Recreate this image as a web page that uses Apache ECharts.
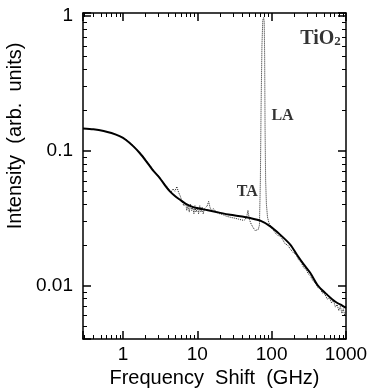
<!DOCTYPE html>
<html>
<head>
<meta charset="utf-8">
<script src="https://cdn.jsdelivr.net/npm/echarts@6.0.0/dist/echarts.min.js"></script>
<style>
  html, body { margin: 0; padding: 0; background: #fff; }
  #chart { width: 371px; height: 388px; }
</style>
</head>
<body>
<div id="chart"></div>
<script>
// fitted curve (solid line)
var fitFreq = [0.29, 0.4, 0.55, 0.7, 0.9, 1.1, 1.37, 1.68, 2.07, 2.5, 3.13, 3.7, 4.28, 5.0, 5.84, 7.0, 8.83, 11, 13.4, 18,
  27.7, 40, 51.5, 70.3, 95.9, 131, 179, 220, 270, 333, 411, 480, 561, 650, 765, 880, 1000];
var fitInt = [0.146, 0.144, 0.140, 0.135, 0.128, 0.120, 0.108, 0.096, 0.083, 0.072, 0.0626, 0.055, 0.0498, 0.046, 0.0432, 0.0403, 0.0381, 0.0370, 0.0362, 0.0350,
  0.0334, 0.0325, 0.0316, 0.0302, 0.0274, 0.0237, 0.0200, 0.0168, 0.0143, 0.0123, 0.0101, 0.0092, 0.0085, 0.0079, 0.0074, 0.0071, 0.0068];

// measured spectrum (dotted line), TA and LA peaks
var measFreq = [1.1, 1.25, 1.4, 1.6, 1.8, 2.0, 2.3, 2.6, 3.0, 3.4, 3.8, 4.1, 4.4, 4.7, 5.0, 5.3, 5.6, 5.9, 6.2, 6.6,
  7.0, 7.2, 7.5, 7.8, 8.1, 8.4, 8.7, 9.0, 9.3, 9.6, 10.0, 10.4, 10.8, 11.2, 11.6, 12.0, 12.5, 13.0, 13.6, 14.2,
  14.8, 15.5, 16.5, 18, 20, 22, 25, 28, 32, 36, 40, 43, 46, 48, 50, 53, 56, 60, 63.5, 66,
  68.5, 70.5, 72, 74, 76, 78, 79.5, 80.5, 81.5, 83, 85, 88, 92, 97, 104, 112, 120, 130, 140, 150,
  165, 180, 195, 210, 230, 250, 270, 290, 310, 330, 360, 390, 420, 450, 480, 520, 560, 600, 640, 680,
  720, 760, 800, 840, 880, 920, 960, 1000];
var measInt = [0.121, 0.114, 0.108, 0.099, 0.093, 0.086, 0.078, 0.071, 0.065, 0.059, 0.055, 0.052, 0.049, 0.052, 0.050, 0.054, 0.049, 0.046, 0.042, 0.039,
  0.041, 0.036, 0.039, 0.035, 0.040, 0.036, 0.038, 0.034, 0.039, 0.035, 0.038, 0.034, 0.039, 0.035, 0.038, 0.034, 0.037, 0.036, 0.039, 0.042,
  0.038, 0.036, 0.037, 0.035, 0.034, 0.0335, 0.0325, 0.032, 0.0315, 0.031, 0.0305, 0.0305, 0.032, 0.036, 0.031, 0.0285, 0.027, 0.0255, 0.025, 0.026,
  0.028, 0.06, 0.2, 0.6, 0.93, 0.97, 0.9, 0.5, 0.15, 0.06, 0.04, 0.032, 0.029, 0.0275, 0.026, 0.0245, 0.0235, 0.0232, 0.022, 0.0205,
  0.0198, 0.0185, 0.0175, 0.0172, 0.0155, 0.0148, 0.0135, 0.0132, 0.0122, 0.0118, 0.0108, 0.0104, 0.0096, 0.0094, 0.0088, 0.0086, 0.0079, 0.0081, 0.0074, 0.0077,
  0.0069, 0.0072, 0.0065, 0.0070, 0.0062, 0.0067, 0.0060, 0.0064];

// axes
var xRange = [0.29, 1000];
var yRange = [0.004, 1.05];
var xTickLabels = ['1', '10', '100', '1000'];
var yTickLabels = ['0.01', '0.1', '1'];
var xMinor = [0.3, 0.4, 0.5, 0.6, 0.7, 0.8, 0.9, 2, 3, 4, 5, 6, 7, 8, 9, 20, 30, 40, 50, 60, 70, 80, 90, 200, 300, 400, 500, 600, 700, 800, 900];
var yMinor = [0.005, 0.006, 0.007, 0.008, 0.009, 0.02, 0.03, 0.04, 0.05, 0.06, 0.07, 0.08, 0.09, 0.2, 0.3, 0.4, 0.5, 0.6, 0.7, 0.8, 0.9];

// annotations
var noteText = ['TiO2', 'LA', 'TA'];
var noteFreq = [455, 140, 47];
var noteInt = [0.69, 0.182, 0.0496];

var myChart = echarts.init(document.getElementById('chart'));

function pairs(xs, ys) {
  return xs.map(function (x, i) { return [x, ys[i]]; });
}

function tickFormatter(list, k) {
  return function (v) {
    var s = String(Math.round(v * k) / k);
    return list.indexOf(s) >= 0 ? s : '';
  };
}

// short inward ticks for the log minor divisions, on both sides of the frame
function minorTick(dim) {
  return function (params, api) {
    var len = 4, a, b, st = { stroke: '#000', lineWidth: 1 };
    if (dim === 'x') {
      a = api.coord([api.value(0), yRange[0]]);
      b = api.coord([api.value(0), yRange[1]]);
      var x = Math.round(a[0]) + 0.5;
      return { type: 'group', children: [
        { type: 'line', shape: { x1: x, y1: a[1], x2: x, y2: a[1] - len }, style: st },
        { type: 'line', shape: { x1: x, y1: b[1], x2: x, y2: b[1] + len }, style: st }
      ] };
    }
    a = api.coord([xRange[0], api.value(1)]);
    b = api.coord([xRange[1], api.value(1)]);
    var y = Math.round(a[1]) + 0.5;
    return { type: 'group', children: [
      { type: 'line', shape: { x1: a[0], y1: y, x2: a[0] + len, y2: y }, style: st },
      { type: 'line', shape: { x1: b[0], y1: y, x2: b[0] - len, y2: y }, style: st }
    ] };
  };
}

var axisLine = { show: true, lineStyle: { color: '#000', width: 1.5 } };
var axisTick = { show: true, inside: true, length: 8, lineStyle: { color: '#000', width: 1.5 } };
var labelFont = { color: '#000', fontSize: 19, fontFamily: 'Liberation Sans, Arial, sans-serif' };
var serif = 'Liberation Serif, Times New Roman, serif';

var option = {
  backgroundColor: '#fff',
  animation: false,
  grid: { left: 83, right: 25, top: 13, bottom: 49, outerBoundsMode: 'none' },
  xAxis: [{
    type: 'log', logBase: 10, position: 'bottom',
    min: xRange[0], max: xRange[1],
    name: 'Frequency  Shift  (GHz)', nameLocation: 'middle', nameGap: 20,
    nameTextStyle: { color: '#000', fontSize: 20, fontFamily: 'Liberation Sans, Arial, sans-serif' },
    axisLine: axisLine, axisTick: axisTick,
    axisLabel: Object.assign({ margin: 6, formatter: tickFormatter(xTickLabels, 1000) }, labelFont),
    splitLine: { show: false }
  }, {
    type: 'log', logBase: 10, position: 'top',
    min: xRange[0], max: xRange[1],
    axisLine: axisLine, axisTick: axisTick,
    axisLabel: { show: false }, splitLine: { show: false }
  }],
  yAxis: [{
    type: 'log', logBase: 10, position: 'left',
    min: yRange[0], max: yRange[1],
    name: 'Intensity  (arb.  units)', nameLocation: 'middle', nameGap: 46,
    nameTextStyle: { color: '#000', fontSize: 20, fontFamily: 'Liberation Sans, Arial, sans-serif', padding: [0, 0, 0, 80] },
    axisLine: axisLine, axisTick: axisTick,
    axisLabel: Object.assign({ margin: 10, formatter: tickFormatter(yTickLabels, 10000) }, labelFont),
    splitLine: { show: false }
  }, {
    type: 'log', logBase: 10, position: 'right',
    min: yRange[0], max: yRange[1],
    axisLine: axisLine, axisTick: axisTick,
    axisLabel: { show: false }, splitLine: { show: false }
  }],
  series: [{
    type: 'custom', silent: true,
    renderItem: minorTick('x'),
    data: xMinor.map(function (v) { return [v, yRange[0]]; })
  }, {
    type: 'custom', silent: true,
    renderItem: minorTick('y'),
    data: yMinor.map(function (v) { return [xRange[0], v]; })
  }, {
    name: 'measured', type: 'line',
    data: pairs(measFreq, measInt),
    showSymbol: false,
    lineStyle: { color: '#222', width: 1, type: 'dotted' },
    z: 3
  }, {
    name: 'fit', type: 'line',
    data: pairs(fitFreq, fitInt),
    showSymbol: false, smooth: 0.25,
    lineStyle: { color: '#000', width: 2 },
    z: 4
  }, {
    type: 'scatter', symbolSize: 0, silent: true,
    data: noteText.map(function (t, i) { return [noteFreq[i], noteInt[i], t]; }),
    label: {
      show: true, position: 'inside', color: '#000',
      fontFamily: serif, fontSize: 17,
      formatter: function (p) {
        var t = p.data[2];
        return t === 'TiO2' ? '{a|TiO}{b|2}' : '{c|' + t + '}';
      },
      rich: {
        a: { fontSize: 20, fontFamily: serif, color: '#000', fontWeight: 'bold', lineHeight: 22, verticalAlign: 'bottom' },
        b: { fontSize: 13, fontFamily: serif, color: '#000', fontWeight: 'bold', lineHeight: 13, verticalAlign: 'bottom', padding: [8, 0, 0, 0] },
        c: { fontSize: 16, fontFamily: serif, color: '#000', fontWeight: 'bold' }
      }
    },
    z: 5
  }]
};

myChart.setOption(option);
window.addEventListener('resize', function () {
  myChart.resize();
});
</script>
</body>
</html>
